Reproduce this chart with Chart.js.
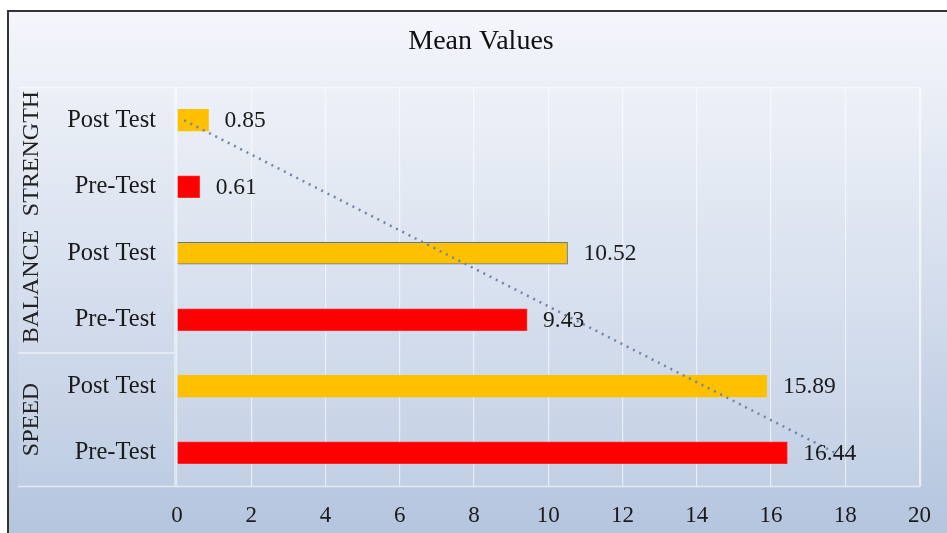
<!DOCTYPE html>
<html>
<head>
<meta charset="utf-8">
<script src="https://cdn.jsdelivr.net/npm/chart.js@4/dist/chart.umd.min.js"></script>
<style>
  html, body { margin: 0; padding: 0; background: #ffffff; }
  #wrap { width: 947px; height: 533px; position: relative; }
</style>
</head>
<body>
<div id="wrap"><canvas id="chart" width="947" height="533"></canvas></div>
<script>
// Rows from top to bottom, with the test group each pair belongs to
const categories = ['Post Test', 'Pre-Test', 'Post Test', 'Pre-Test', 'Post Test', 'Pre-Test'];
const groups = ['STRENGTH', 'BALANCE', 'SPEED'];
const meanValues = [0.85, 0.61, 10.52, 9.43, 15.89, 16.44];
const barColors = ['#FFC000', '#FF0000', '#FFC000', '#FF0000', '#FFC000', '#FF0000'];
const barBorders = ['#FFC000', '#FF2a2a', '#56789a', '#FF2a2a', '#FFC000', '#FF2a2a'];
const axisMin = 0, axisMax = 20, axisStep = 2;

// Linear trend (least squares over row position)
function linearTrend(vals) {
  const n = vals.length;
  const mx = (n - 1) / 2;
  const my = vals.reduce((a, b) => a + b, 0) / n;
  let sxy = 0, sxx = 0;
  vals.forEach((v, i) => { sxy += (i - mx) * (v - my); sxx += (i - mx) * (i - mx); });
  const slope = sxy / sxx;
  return vals.map((v, i) => my + slope * (i - mx));
}
const trendValues = linearTrend(meanValues);

const SERIF = "'Liberation Serif', 'Times New Roman', serif";

const backdrop = {
  id: 'backdrop',
  beforeDraw(chart) {
    const ctx = chart.ctx;
    const W = chart.width, H = chart.height;
    ctx.save();
    ctx.fillStyle = '#ffffff';
    ctx.fillRect(0, 0, W, H);
    const g = ctx.createLinearGradient(0, 10, 0, H);
    g.addColorStop(0, '#f4f6fb');
    g.addColorStop(0.15, '#ebeff7');
    g.addColorStop(0.55, '#d2dcec');
    g.addColorStop(1, '#b4c5de');
    ctx.fillStyle = g;
    ctx.fillRect(8, 10, W - 8, H - 10);

    const a = chart.chartArea;
    // soft panel for the plot and the category column
    ctx.fillStyle = 'rgba(255,255,255,0.12)';
    ctx.fillRect(a.left, a.top, a.right - a.left, a.bottom - a.top);
    ctx.fillStyle = 'rgba(255,255,255,0.07)';
    ctx.fillRect(18, a.top, a.left - 20, a.bottom - a.top);

    ctx.strokeStyle = 'rgba(255,255,255,0.6)';
    ctx.lineWidth = 1.5;
    ctx.beginPath();
    ctx.moveTo(18, a.top + 0.5); ctx.lineTo(a.right + 1, a.top + 0.5);
    ctx.moveTo(a.right + 1, a.top); ctx.lineTo(a.right + 1, a.bottom);
    ctx.moveTo(18, a.bottom + 0.5); ctx.lineTo(a.right + 1, a.bottom + 0.5);
    ctx.moveTo(a.left - 2, a.top); ctx.lineTo(a.left - 2, a.bottom);
    // divider between the BALANCE and SPEED groups
    const y = chart.scales.y;
    const mid = (y.getPixelForValue(3) + y.getPixelForValue(4)) / 2;
    ctx.moveTo(18, mid); ctx.lineTo(a.left - 2, mid);
    ctx.stroke();

    // frame
    ctx.strokeStyle = '#333333';
    ctx.lineWidth = 2;
    ctx.beginPath();
    ctx.moveTo(8, H); ctx.lineTo(8, 11); ctx.lineTo(W, 11);
    ctx.stroke();
    ctx.restore();
  },
  afterDraw(chart) {
    const ctx = chart.ctx;
    const y = chart.scales.y;
    ctx.save();
    // title
    ctx.fillStyle = '#111111';
    ctx.font = '28px ' + SERIF;
    ctx.textAlign = 'center';
    ctx.textBaseline = 'middle';
    ctx.fillText('Mean Values', 481, 42);
    // group labels, rotated
    ctx.font = '24px ' + SERIF;
    ctx.fillStyle = '#222222';
    groups.forEach((gName, gi) => {
      const cy = (y.getPixelForValue(gi * 2) + y.getPixelForValue(gi * 2 + 1)) / 2;
      ctx.save();
      ctx.translate(32, cy);
      ctx.rotate(-Math.PI / 2);
      ctx.fillText(gName, 0, 0);
      ctx.restore();
    });
    // value labels at the bar ends
    const meta = chart.getDatasetMeta(1);
    ctx.font = '23.5px ' + SERIF;
    ctx.textAlign = 'left';
    ctx.fillStyle = '#1a1a1a';
    meta.data.forEach((bar, i) => {
      ctx.fillText(meanValues[i].toFixed(2), bar.x + 16, bar.y + 1);
    });
    ctx.restore();
  }
};

new Chart(document.getElementById('chart'), {
  data: {
    labels: categories,
    datasets: [
      {
        type: 'line',
        indexAxis: 'y',
        data: trendValues,
        borderColor: '#6f84a6',
        borderWidth: 2.5,
        borderDash: [2, 5],
        pointRadius: 0,
        fill: false,
        order: 0
      },
      {
        type: 'bar',
        data: meanValues,
        backgroundColor: barColors,
        borderColor: barBorders,
        borderWidth: 1,
        barThickness: 22,
        order: 1
      }
    ]
  },
  options: {
    indexAxis: 'y',
    responsive: false,
    animation: false,
    devicePixelRatio: 1,
    layout: { padding: { top: 87, right: 26, left: 0, bottom: 0 } },
    plugins: {
      legend: { display: false },
      title: { display: false },
      tooltip: { enabled: false }
    },
    scales: {
      x: {
        min: axisMin,
        max: axisMax,
        ticks: {
          stepSize: axisStep,
          padding: 16,
          color: '#1a1a1a',
          font: { family: SERIF, size: 23 }
        },
        grid: { color: 'rgba(255,255,255,0.6)', lineWidth: 1.2, drawTicks: false },
        border: { display: false },
        afterFit(scale) { scale.height = 47; }
      },
      y: {
        ticks: {
          padding: 21,
          color: '#1a1a1a',
          font: { family: SERIF, size: 24.5 }
        },
        grid: { display: false, drawTicks: false },
        border: { display: false },
        afterFit(scale) { scale.width = 177; }
      }
    }
  },
  plugins: [backdrop]
});
</script>
</body>
</html>
